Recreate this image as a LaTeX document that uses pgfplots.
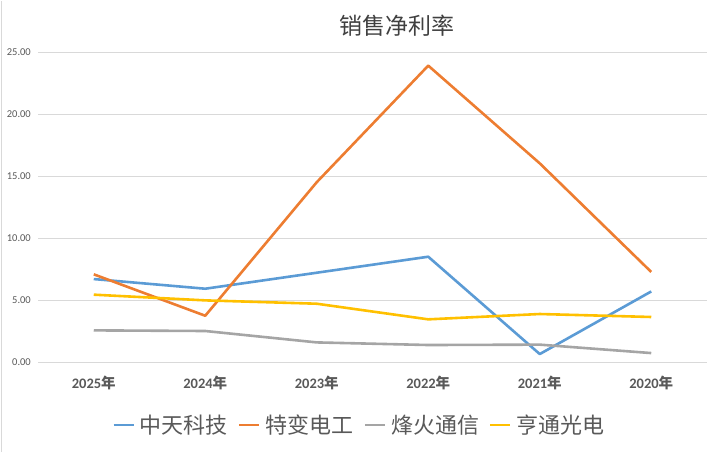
\documentclass[border=0pt]{standalone}
\usepackage{pgfplots}
\pgfplotsset{compat=1.18}
\usepackage{fontspec}
\setmainfont{Carlito}
\newfontfamily\cjk{Noto Sans CJK SC}
\definecolor{cblue}{HTML}{5B9BD5}
\definecolor{corange}{HTML}{ED7D31}
\definecolor{cgray}{HTML}{A5A5A5}
\definecolor{cyellow}{HTML}{FFC000}
\definecolor{gridc}{HTML}{D9D9D9}
\definecolor{txt}{HTML}{595959}
\begin{document}
\begin{tikzpicture}[x=1pt,y=1pt]
\path[use as bounding box] (0,0) rectangle (719,453);
\draw[gridc, line width=0.8pt] (1.5,1) -- (1.5,452);
\node[text=black!75, font=\cjk\fontsize{23}{26}\selectfont] at (397,427) {销售净利率};
\begin{axis}[
  at={(38pt,91pt)}, anchor=south west,
  scale only axis, width=669pt, height=310pt,
  xmin=-0.5, xmax=5.5, ymin=0, ymax=25,
  xtick={0,1,2,3,4,5},
  xticklabels={2025{\cjk 年},2024{\cjk 年},2023{\cjk 年},2022{\cjk 年},2021{\cjk 年},2020{\cjk 年}},
  ytick={0,5,10,15,20,25},
  axis line style={draw=none},
  major tick length=0pt,
  xmajorgrids=false, ymajorgrids=true, grid style={draw=gridc, line width=0.9pt},
  tick label style={text=txt},
  xticklabel style={font=\bfseries\fontsize{14.5}{16}\selectfont, inner sep=0pt, yshift=-14pt, anchor=north},
  yticklabel style={font=\fontsize{10.5}{12}\selectfont, inner sep=0pt, xshift=-7pt, anchor=east,
    /pgf/number format/.cd, fixed, fixed zerofill, precision=2, assume math mode=true},
  legend columns=4,
  legend style={draw=none, fill=none, at={(0.4806,-0.203)}, anchor=center,
    font=\cjk\fontsize{22}{25}\selectfont, text=txt,
    /tikz/every odd column/.append style={column sep=3pt},
    /tikz/every even column/.append style={column sep=8pt}},
  legend image code/.code={\draw[#1, line width=2.6pt] (0pt,0pt) -- (20pt,0pt);},
  every axis plot/.append style={line width=2.6pt, line join=round, mark=none},
]
\addplot[cblue] coordinates {(0,6.69) (1,5.91) (2,7.2) (3,8.49) (4,0.64) (5,5.69)};
\addlegendentry{中天科技}
\addplot[corange] coordinates {(0,7.07) (1,3.73) (2,14.5) (3,23.9) (4,16.02) (5,7.26)};
\addlegendentry{特变电工}
\addplot[cgray] coordinates {(0,2.55) (1,2.5) (2,1.58) (3,1.37) (4,1.40) (5,0.72)};
\addlegendentry{烽火通信}
\addplot[cyellow] coordinates {(0,5.43) (1,4.97) (2,4.7) (3,3.44) (4,3.87) (5,3.63)};
\addlegendentry{亨通光电}
\end{axis}
\end{tikzpicture}
\end{document}
